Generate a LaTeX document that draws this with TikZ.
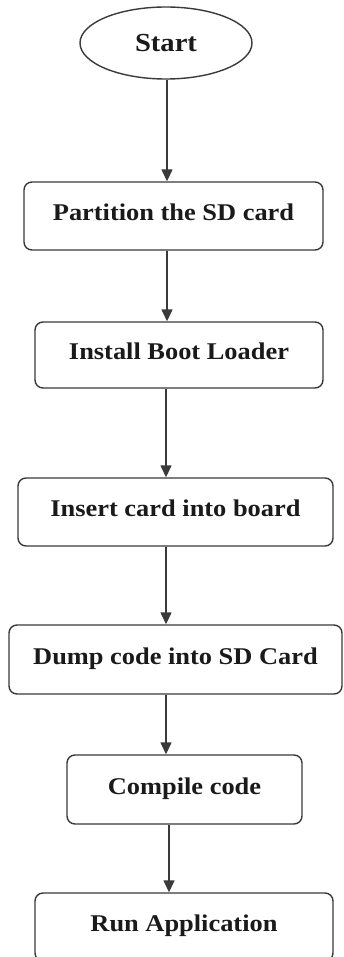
\documentclass[tikz,border=0pt]{standalone}
\usepackage{fontspec}
\setmainfont{Liberation Serif}[FakeStretch=1.1]
\usetikzlibrary{arrows.meta,shapes.geometric}
\definecolor{lineclr}{HTML}{3A3A3A}
\definecolor{txtclr}{HTML}{1A1A1A}
\tikzset{
  stepbox/.style={draw=lineclr, line width=1.4pt, rounded corners=8pt, fill=white,
    text=txtclr, font=\bfseries\fontsize{24}{26}\selectfont,
    text height=16.5pt, text depth=7.5pt, inner sep=0pt},
  startnode/.style={draw=lineclr, line width=1.4pt, ellipse, fill=white, inner sep=0pt,
    text=txtclr, font=\bfseries\fontsize{26}{28}\selectfont},
  arr/.style={draw=lineclr, line width=1.4pt, -{Triangle[length=12pt,width=11pt]}}
}
\begin{document}
\begin{tikzpicture}[x=1pt,y=-1pt]
\clip (0,0) rectangle (343,957);
\fill[white] (0,0) rectangle (343,957);
\node[startnode, minimum width=172pt, minimum height=72pt] (s) at (166,43) {Start};
\node[stepbox, minimum width=299pt, minimum height=68pt] (b1) at (173.5,216) {Partition the SD card};
\node[stepbox, minimum width=288pt, minimum height=66pt] (b2) at (179,355) {Install Boot Loader};
\node[stepbox, minimum width=315pt, minimum height=68pt] (b3) at (175.5,512) {Insert card into board};
\node[stepbox, minimum width=333pt, minimum height=69pt] (b4) at (175.5,659.5) {Dump code into SD Card};
\node[stepbox, minimum width=235pt, minimum height=69pt] (b5) at (184.5,789.5) {Compile code};
\node[stepbox, minimum width=298pt, minimum height=68pt] (b6) at (184,927) {Run Application};
\draw[arr] ([xshift=1pt]s.south) -- ([xshift=1pt]s.south |- b1.north);
\draw[arr] ([xshift=-6.5pt]b1.south) -- ([xshift=-6.5pt]b1.south |- b2.north);
\draw[arr] ([xshift=-13pt]b2.south) -- ([xshift=-13pt]b2.south |- b3.north);
\draw[arr] ([xshift=-9.5pt]b3.south) -- ([xshift=-9.5pt]b3.south |- b4.north);
\draw[arr] ([xshift=-9.5pt]b4.south) -- ([xshift=-9.5pt]b4.south |- b5.north);
\draw[arr] ([xshift=-15.5pt]b5.south) -- ([xshift=-15.5pt]b5.south |- b6.north);
\end{tikzpicture}
\end{document}
